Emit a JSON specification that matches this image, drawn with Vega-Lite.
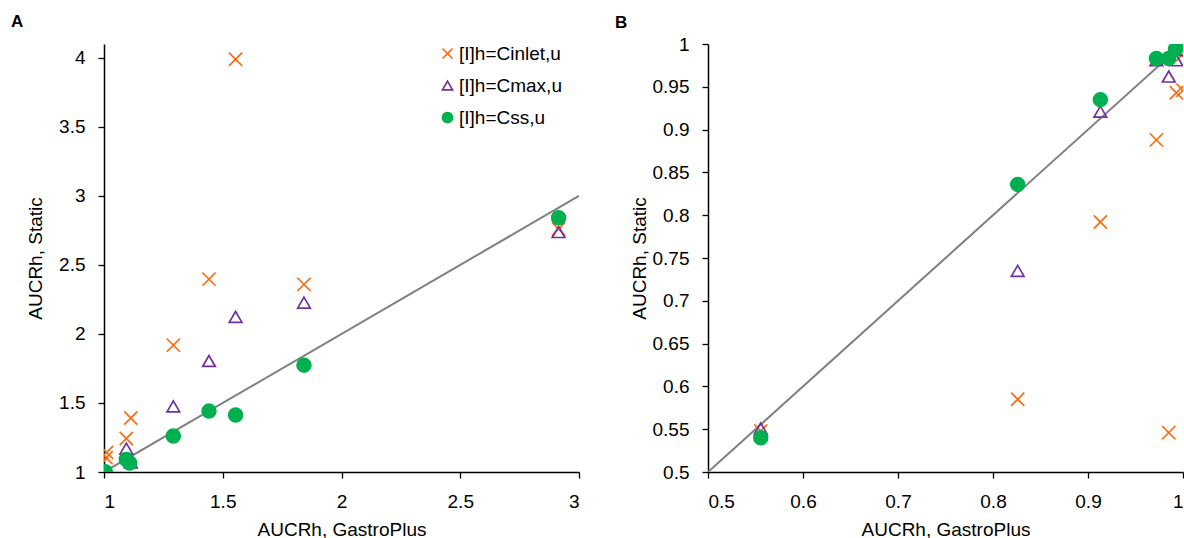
{
  "$schema": "https://vega.github.io/schema/vega-lite/v6.json",
  "padding": {"left": 11, "top": 13, "right": 0, "bottom": 0},
  "spacing": 35,
  "config": {
    "font": "Liberation Sans",
    "view": {"stroke": null},
    "title": {"fontSize": 17, "fontWeight": "bold", "anchor": "start", "frame": "bounds", "color": "black", "baseline": "top"},
    "axis": {
      "grid": false, "domainColor": "black", "domainWidth": 1.5, "tickColor": "black", "tickWidth": 1.3, "tickSize": 6,
      "labelFontSize": 19, "labelColor": "black", "titleFontSize": 19, "titleFontWeight": "normal", "titleColor": "black",
      "labelFont": "Liberation Sans", "titleFont": "Liberation Sans"
    },
    "legend": {"labelFontSize": 19, "labelFont": "Liberation Sans", "labelColor": "black", "orient": "none", "legendX": 334, "legendY": 0, "padding": 0, "rowPadding": 12, "labelOffset": 2, "symbolSize": 100, "symbolStrokeWidth": 1.7}
  },
  "datasets": {
    "pts": [
      {"s": "[I]h=Cinlet,u", "x": 0.5555, "y": 0.548},
      {"s": "[I]h=Cinlet,u", "x": 0.826, "y": 0.585},
      {"s": "[I]h=Cinlet,u", "x": 0.913, "y": 0.792},
      {"s": "[I]h=Cinlet,u", "x": 0.972, "y": 0.888},
      {"s": "[I]h=Cinlet,u", "x": 0.985, "y": 0.546},
      {"s": "[I]h=Cinlet,u", "x": 0.993, "y": 0.943},
      {"s": "[I]h=Cinlet,u", "x": 1.0, "y": 0.946},
      {"s": "[I]h=Cinlet,u", "x": 0.999, "y": 0.987},
      {"s": "[I]h=Cinlet,u", "x": 0.99, "y": 1.06},
      {"s": "[I]h=Cinlet,u", "x": 1.009, "y": 1.104},
      {"s": "[I]h=Cinlet,u", "x": 1.011, "y": 1.142},
      {"s": "[I]h=Cinlet,u", "x": 1.094, "y": 1.242},
      {"s": "[I]h=Cinlet,u", "x": 1.113, "y": 1.391},
      {"s": "[I]h=Cinlet,u", "x": 1.292, "y": 1.919},
      {"s": "[I]h=Cinlet,u", "x": 1.442, "y": 2.397},
      {"s": "[I]h=Cinlet,u", "x": 1.554, "y": 3.99},
      {"s": "[I]h=Cinlet,u", "x": 1.842, "y": 2.359},
      {"s": "[I]h=Cinlet,u", "x": 2.914, "y": 2.76},
      {"s": "[I]h=Cmax,u", "x": 0.5555, "y": 0.551},
      {"s": "[I]h=Cmax,u", "x": 0.826, "y": 0.735},
      {"s": "[I]h=Cmax,u", "x": 0.913, "y": 0.921},
      {"s": "[I]h=Cmax,u", "x": 0.972, "y": 0.981},
      {"s": "[I]h=Cmax,u", "x": 0.985, "y": 0.962},
      {"s": "[I]h=Cmax,u", "x": 0.993, "y": 0.981},
      {"s": "[I]h=Cmax,u", "x": 0.999, "y": 0.993},
      {"s": "[I]h=Cmax,u", "x": 1.003, "y": 1.0},
      {"s": "[I]h=Cmax,u", "x": 1.008, "y": 1.0},
      {"s": "[I]h=Cmax,u", "x": 1.094, "y": 1.169},
      {"s": "[I]h=Cmax,u", "x": 1.113, "y": 1.07},
      {"s": "[I]h=Cmax,u", "x": 1.292, "y": 1.475},
      {"s": "[I]h=Cmax,u", "x": 1.442, "y": 1.804},
      {"s": "[I]h=Cmax,u", "x": 1.554, "y": 2.123},
      {"s": "[I]h=Cmax,u", "x": 1.842, "y": 2.227},
      {"s": "[I]h=Cmax,u", "x": 2.914, "y": 2.738},
      {"s": "[I]h=Css,u", "x": 0.5555, "y": 0.54},
      {"s": "[I]h=Css,u", "x": 0.826, "y": 0.836},
      {"s": "[I]h=Css,u", "x": 0.913, "y": 0.935},
      {"s": "[I]h=Css,u", "x": 0.972, "y": 0.983},
      {"s": "[I]h=Css,u", "x": 0.985, "y": 0.983},
      {"s": "[I]h=Css,u", "x": 0.992, "y": 0.994},
      {"s": "[I]h=Css,u", "x": 0.997, "y": 0.999},
      {"s": "[I]h=Css,u", "x": 1.005, "y": 1.002},
      {"s": "[I]h=Css,u", "x": 1.094, "y": 1.09},
      {"s": "[I]h=Css,u", "x": 1.108, "y": 1.065},
      {"s": "[I]h=Css,u", "x": 1.292, "y": 1.261},
      {"s": "[I]h=Css,u", "x": 1.442, "y": 1.441},
      {"s": "[I]h=Css,u", "x": 1.554, "y": 1.413},
      {"s": "[I]h=Css,u", "x": 1.842, "y": 1.774},
      {"s": "[I]h=Css,u", "x": 2.914, "y": 2.842}
    ],
    "lineA": [{"x": 1, "y": 1}, {"x": 3, "y": 3}],
    "lineB": [{"x": 0.5, "y": 0.5}, {"x": 1, "y": 1}]
  },
  "hconcat": [
    {
      "title": {"text": "A", "dx": -15, "offset": 13},
      "width": 475,
      "height": 428,
      "layer": [
        {
          "data": {"name": "lineA"},
          "mark": {"type": "line", "color": "#7F7F7F", "strokeWidth": 2, "clip": true},
          "encoding": {
            "x": {"field": "x", "type": "quantitative", "scale": {"domain": [1, 3], "nice": false, "zero": false},
              "axis": {"title": "AUCRh, GastroPlus", "values": [1, 1.5, 2, 2.5, 3], "labelExpr": "datum.value", "labelPadding": 14, "titleY": 63, "titleBaseline": "alphabetic"}},
            "y": {"field": "y", "type": "quantitative", "scale": {"domain": [1, 4.1], "nice": false, "zero": false},
              "axis": {"title": "AUCRh, Static", "values": [1, 1.5, 2, 2.5, 3, 3.5, 4], "labelExpr": "datum.value", "labelPadding": 13, "titleX": -63, "titleBaseline": "alphabetic"}}
          }
        },
        {
          "data": {"name": "pts"},
          "mark": {"type": "point", "strokeWidth": 1.7, "opacity": 1, "clip": true},
          "encoding": {
            "x": {"field": "x", "type": "quantitative"},
            "y": {"field": "y", "type": "quantitative"},
            "shape": {"field": "s", "type": "nominal", "title": null,
              "scale": {"domain": ["[I]h=Cinlet,u", "[I]h=Cmax,u", "[I]h=Css,u"], "range": ["M-1,-1L1,1M-1,1L1,-1", "triangle-up", "circle"]}},
            "stroke": {"field": "s", "type": "nominal", "title": null,
              "scale": {"domain": ["[I]h=Cinlet,u", "[I]h=Cmax,u", "[I]h=Css,u"], "range": ["#FF6A0A", "#7030A0", "#00B050"]}},
            "fill": {"field": "s", "type": "nominal", "title": null,
              "scale": {"domain": ["[I]h=Cinlet,u", "[I]h=Cmax,u", "[I]h=Css,u"], "range": ["rgba(0,0,0,0)", "rgba(0,0,0,0)", "#00B050"]}},
            "size": {"field": "s", "type": "nominal",
              "scale": {"domain": ["[I]h=Css,u", "[I]h=Cinlet,u", "[I]h=Cmax,u"], "range": [190, 160, 165]}, "legend": null}
          }
        }
      ]
    },
    {
      "title": {"text": "B", "dx": -15, "offset": 3},
      "width": 475,
      "height": 428,
      "layer": [
        {
          "data": {"name": "lineB"},
          "mark": {"type": "line", "color": "#7F7F7F", "strokeWidth": 2, "clip": true},
          "encoding": {
            "x": {"field": "x", "type": "quantitative", "scale": {"domain": [0.5, 1], "nice": false, "zero": false},
              "axis": {"title": "AUCRh, GastroPlus", "values": [0.5, 0.6, 0.7, 0.8, 0.9, 1], "labelExpr": "datum.value", "labelPadding": 14, "titleY": 63, "titleBaseline": "alphabetic"}},
            "y": {"field": "y", "type": "quantitative", "scale": {"domain": [0.5, 1], "nice": false, "zero": false},
              "axis": {"title": "AUCRh, Static", "values": [0.5, 0.55, 0.6, 0.65, 0.7, 0.75, 0.8, 0.85, 0.9, 0.95, 1], "labelExpr": "datum.value", "labelPadding": 13, "titleX": -63, "titleBaseline": "alphabetic"}}
          }
        },
        {
          "data": {"name": "pts"},
          "mark": {"type": "point", "strokeWidth": 1.7, "opacity": 1, "clip": true},
          "encoding": {
            "x": {"field": "x", "type": "quantitative"},
            "y": {"field": "y", "type": "quantitative"},
            "shape": {"field": "s", "type": "nominal", "title": null,
              "scale": {"domain": ["[I]h=Cinlet,u", "[I]h=Cmax,u", "[I]h=Css,u"], "range": ["M-1,-1L1,1M-1,1L1,-1", "triangle-up", "circle"]}},
            "stroke": {"field": "s", "type": "nominal", "title": null,
              "scale": {"domain": ["[I]h=Cinlet,u", "[I]h=Cmax,u", "[I]h=Css,u"], "range": ["#FF6A0A", "#7030A0", "#00B050"]}},
            "fill": {"field": "s", "type": "nominal", "title": null,
              "scale": {"domain": ["[I]h=Cinlet,u", "[I]h=Cmax,u", "[I]h=Css,u"], "range": ["rgba(0,0,0,0)", "rgba(0,0,0,0)", "#00B050"]}},
            "size": {"field": "s", "type": "nominal",
              "scale": {"domain": ["[I]h=Css,u", "[I]h=Cinlet,u", "[I]h=Cmax,u"], "range": [190, 160, 165]}, "legend": null}
          }
        }
      ]
    }
  ]
}
